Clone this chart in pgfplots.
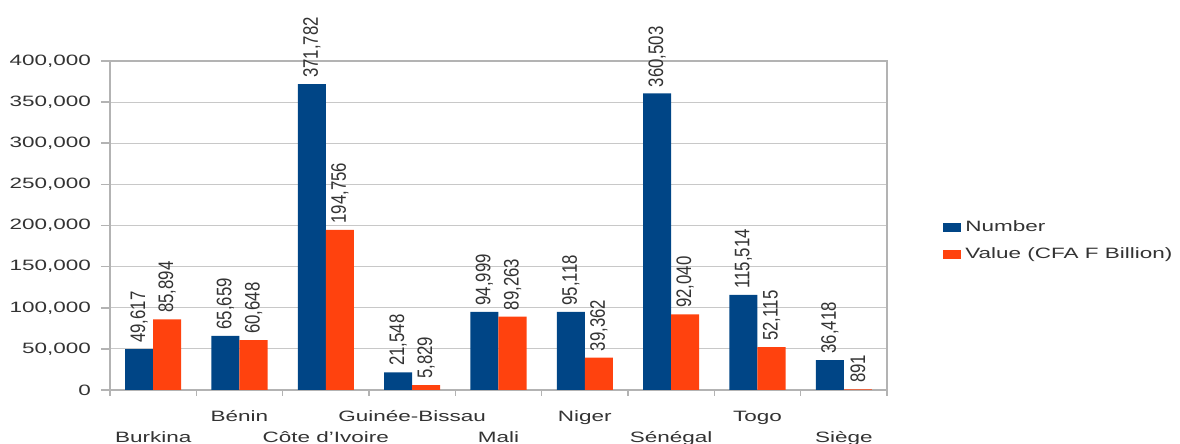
\documentclass[border=0pt]{standalone}
\usepackage{fontspec}
\setmainfont[FakeStretch=1.5]{Liberation Sans}
\newfontfamily\rotfont[FakeStretch=0.8]{Liberation Sans}
\usepackage{pgfplots}
\pgfplotsset{compat=1.18}
\definecolor{cblue}{HTML}{004586}
\definecolor{corange}{HTML}{FF420E}
\definecolor{txt}{HTML}{333333}
\definecolor{gridc}{HTML}{C8C8C8}
\definecolor{axc}{HTML}{B3B3B3}
\begin{document}
\begin{tikzpicture}
\path[use as bounding box] (-55pt,-27pt) rectangle (535pt,195pt);
\begin{axis}[
  at={(0,0)}, anchor=south west,
  scale only axis, width=388.5pt, height=164.5pt,
  xmin=-0.5, xmax=8.5, ymin=0, ymax=400000,
  ybar=0pt, bar width=0.325,
  clip=false,
  axis line style={axc, line width=0.8pt},
  ymajorgrids, grid style={gridc, line width=0.6pt},
  tick align=outside, tick pos=left,
  major tick length=4.5pt, minor tick length=3pt,
  ytick={0,50000,...,400000},
  scaled y ticks=false,
  /pgf/number format/fixed,
  /pgf/number format/1000 sep={,},
  /pgf/number format/assume math mode=true,
  y tick style={axc, line width=0.8pt},
  xtick={1,3,5,7},
  xticklabels={Bénin, Guinée-Bissau, Niger, Togo},
  major x tick style={draw=none},
  minor xtick={-0.5,0.5,...,8.5},
  minor x tick style={axc, line width=0.8pt},
  extra x ticks={0,2,4,6,8},
  extra x tick labels={Burkina, Côte d'Ivoire, Mali, Sénégal, Siège},
  extra x tick style={major x tick style={draw=none}, xticklabel style={yshift=-10.8pt}},
  ticklabel style={font=\fontsize{7.5}{9}\selectfont, text=txt},
  xticklabel style={anchor=north, text height=5.6pt, text depth=1.6pt, yshift=-2pt},
  yticklabel style={anchor=east, xshift=-1.5pt},
  nodes near coords={\pgfmathprintnumber[fixed,precision=0,1000 sep={,},assume math mode=true]{\pgfplotspointmeta}},
  every node near coord/.append style={rotate=90, anchor=west, font=\rotfont\fontsize{10.5}{12}\selectfont, text=txt, inner xsep=3pt, inner ysep=0pt},
  legend style={at={(1.072,0.454)}, anchor=west, draw=none, fill=none, font=\fontsize{7.5}{9}\selectfont, text=txt, row sep=2.5pt, inner sep=0pt},
  legend cell align=left,
]
\addplot[fill=cblue, draw=none,
  legend image code/.code={\fill[cblue] (0pt,-2.25pt) rectangle (9pt,2.25pt);}]
  coordinates {(0,49617) (1,65659) (2,371782) (3,21548) (4,94999) (5,95118) (6,360503) (7,115514) (8,36418)};
\addlegendentry{Number}
\addplot[fill=corange, draw=none,
  legend image code/.code={\fill[corange] (0pt,-2.25pt) rectangle (9pt,2.25pt);}]
  coordinates {(0,85894) (1,60648) (2,194756) (3,5829) (4,89263) (5,39362) (6,92040) (7,52115) (8,891)};
\addlegendentry{Value (CFA F Billion)}
\end{axis}
\end{tikzpicture}
\end{document}
